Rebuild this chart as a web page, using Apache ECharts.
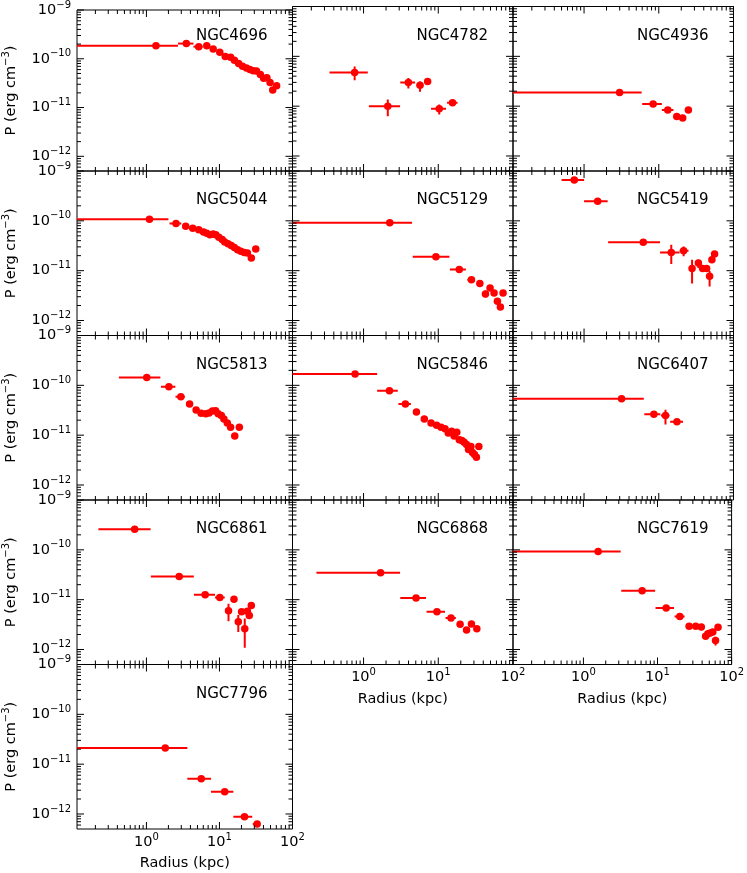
<!DOCTYPE html>
<html lang="en">
<head>
<meta charset="UTF-8">
<title>Pressure profiles</title>
<script src="https://cdn.jsdelivr.net/npm/echarts@6/dist/echarts.min.js"></script>
<style>
    html, body { margin: 0; padding: 0; background: #fff; }
    #container { width: 747px; height: 873px; }
</style>
</head>
<body>
<div id="container"></div>
<script>
    // one row per point: [radius kpc, P, radius low, radius high, P low, P high]
    // null = no bar, radius low 0 = bin starts at the centre
    var NGC4696 = [
        [1.35, 1.85e-10, 0, 2.7, null, null], [3.52, 2.05e-10, 2.7, 4.4, null, null],
        [5.2, 1.77e-10, 4.4, 5.9, null, null], [6.7, 1.85e-10, null, null, null, null],
        [8.2, 1.59e-10, null, null, null, null], [10.1, 1.36e-10, null, null, null, null],
        [12, 1.11e-10, null, null, null, null], [14.2, 1.08e-10, null, null, null, null],
        [16, 9.3e-11, null, null, null, null], [18.3, 8.0e-11, null, null, null, null],
        [20.7, 7.0e-11, null, null, null, null], [23.4, 6.5e-11, null, null, null, null],
        [26.1, 6.05e-11, null, null, null, null], [28.9, 5.7e-11, null, null, null, null],
        [32.1, 5.6e-11, null, null, null, null], [36.3, 4.75e-11, null, null, null, null],
        [40.2, 4.0e-11, null, null, null, null], [44.6, 4.1e-11, null, null, null, null],
        [49.3, 3.25e-11, null, null, null, null], [53.6, 2.3e-11, null, null, null, null],
        [60.6, 2.8e-11, null, null, null, null]
    ];
    var NGC4782 = [
        [0.76, 4.75e-11, 0.35, 1.14, 3.3e-11, 6.25e-11], [2.11, 1.0e-11, 1.18, 3.08, 6.3e-12, 1.36e-11],
        [3.98, 3.0e-11, 3.1, 4.9, 2.27e-11, 3.67e-11], [5.7, 2.63e-11, 5.1, 6.3, 1.94e-11, 3.13e-11],
        [7.2, 3.13e-11, null, null, null, null], [10.3, 8.9e-12, 8.0, 12.7, 6.8e-12, 1.08e-11],
        [15.5, 1.17e-11, 13.1, 18.1, 1.08e-11, 1.26e-11]
    ];
    var NGC4936 = [
        [2.99, 1.88e-11, 0, 5.9, null, null], [8.4, 1.1e-11, 6.0, 11, null, null],
        [13.2, 8.4e-12, 11, 15.7, null, null], [17.4, 6.2e-12, null, null, null, null],
        [20.9, 5.8e-12, null, null, null, null], [24.9, 8.4e-12, null, null, null, null]
    ];
    var NGC5044 = [
        [1.1, 1.07e-10, 0, 2.0, null, null], [2.54, 8.8e-11, 2.07, 3.0, null, null],
        [3.45, 7.75e-11, null, null, null, null], [4.3, 7.1e-11, null, null, null, null],
        [5.2, 6.6e-11, null, null, null, null], [6.05, 6.0e-11, null, null, null, null],
        [6.7, 5.65e-11, null, null, null, null], [7.4, 5.25e-11, null, null, null, null],
        [8.2, 5.45e-11, null, null, null, null], [8.9, 5.25e-11, null, null, null, null],
        [9.8, 4.7e-11, null, null, null, null], [10.9, 4.2e-11, null, null, null, null],
        [11.8, 3.77e-11, null, null, null, null], [13.1, 3.45e-11, null, null, null, null],
        [14.5, 3.2e-11, null, null, null, null], [16, 2.93e-11, null, null, null, null],
        [17.7, 2.62e-11, null, null, null, null], [19.6, 2.44e-11, null, null, null, null],
        [21.8, 2.32e-11, null, null, null, null], [24.1, 2.25e-11, null, null, null, null],
        [27.3, 1.79e-11, null, null, null, null], [31.4, 2.72e-11, null, null, null, null]
    ];
    var NGC5129 = [
        [2.24, 9.1e-11, 0, 4.46, null, null], [9.3, 1.9e-11, 4.55, 14.1, null, null],
        [19.1, 1.05e-11, 14.3, 23.4, null, null], [27.8, 6.6e-12, 24.5, 31, null, null],
        [36, 5.5e-12, null, null, null, null], [42.8, 3.4e-12, null, null, 2.9e-12, 4.0e-12],
        [49.3, 4.5e-12, null, null, null, null], [55.8, 3.56e-12, null, null, null, null],
        [61.8, 2.44e-12, null, null, null, null], [67.8, 1.87e-12, null, null, null, null],
        [73.6, 3.56e-12, null, null, null, null]
    ];
    var NGC5419 = [
        [0.74, 6.6e-10, 0.5, 1.0, null, null], [1.52, 2.47e-10, 1.0, 2.07, null, null],
        [6.2, 3.7e-11, 2.1, 10.4, null, null], [14.7, 2.32e-11, 10.4, 19, 1.36e-11, 3.3e-11],
        [21.5, 2.5e-11, 19, 25, 1.94e-11, 3.04e-11], [27.9, 1.1e-11, null, null, 5.5e-12, 1.65e-11],
        [33.9, 1.42e-11, null, null, 1.13e-11, 1.65e-11], [38.6, 1.11e-11, null, null, null, null],
        [43.7, 1.11e-11, null, null, null, null], [47.9, 7.75e-12, null, null, 4.8e-12, 9.9e-12],
        [51.4, 1.65e-11, null, null, null, null], [55.8, 2.16e-11, null, null, null, null]
    ];
    var NGC5813 = [
        [1.01, 1.44e-10, 0.42, 1.55, null, null], [2.03, 9.4e-11, 1.58, 2.49, null, null],
        [2.96, 5.9e-11, 2.5, 3.35, null, null], [3.9, 4.2e-11, null, null, null, null],
        [4.79, 3.2e-11, null, null, null, null], [5.6, 2.75e-11, null, null, null, null],
        [6.5, 2.7e-11, null, null, null, null], [7.2, 2.78e-11, null, null, null, null],
        [8.0, 3.06e-11, null, null, null, null], [8.85, 3.1e-11, null, null, null, null],
        [9.6, 2.68e-11, null, null, null, null], [10.6, 2.47e-11, null, null, null, null],
        [11.5, 2.12e-11, null, null, null, null], [12.8, 1.76e-11, null, null, null, null],
        [14.2, 1.44e-11, null, null, null, null], [16.2, 9.6e-12, null, null, null, null],
        [18.7, 1.44e-11, null, null, null, null]
    ];
    var NGC5846 = [
        [0.77, 1.68e-10, 0, 1.52, null, null], [2.22, 7.8e-11, 1.52, 2.87, null, null],
        [3.63, 4.2e-11, 2.93, 4.3, null, null], [5.1, 2.9e-11, null, null, null, null],
        [6.5, 2.12e-11, null, null, null, null], [8.0, 1.76e-11, null, null, null, null],
        [9.5, 1.59e-11, null, null, null, null], [10.9, 1.44e-11, null, null, null, null],
        [12.3, 1.34e-11, null, null, null, null], [13.6, 1.11e-11, null, null, null, null],
        [15.1, 1.2e-11, null, null, null, null], [16.3, 9.6e-12, null, null, null, null],
        [17.7, 1.14e-11, null, null, null, null], [19.1, 8.1e-12, null, null, null, null],
        [20.7, 7.8e-12, null, null, null, null], [22.2, 7.2e-12, null, null, null, null],
        [23.9, 6.5e-12, null, null, null, null], [25.4, 5.15e-12, null, null, null, null],
        [27.3, 5.9e-12, null, null, null, null], [28.7, 4.5e-12, null, null, null, null],
        [30.5, 4.1e-12, null, null, null, null], [32.4, 3.6e-12, null, null, null, null],
        [34.9, 5.9e-12, null, null, null, null]
    ];
    var NGC6407 = [
        [3.18, 5.4e-11, 0, 6.3, null, null], [8.6, 2.63e-11, 6.4, 10.5, null, null],
        [12.3, 2.47e-11, 10.7, 13.9, 1.63e-11, 3.25e-11], [17.5, 1.85e-11, 14.2, 21.1, null, null]
    ];
    var NGC6861 = [
        [0.69, 2.6e-10, 0.22, 1.14, null, null], [2.81, 2.93e-11, 1.15, 4.46, null, null],
        [6.37, 1.26e-11, 4.46, 8.7, 1.15e-11, 1.38e-11], [10.1, 1.11e-11, 8.7, 11.8, null, null],
        [13.3, 6.0e-12, null, null, 3.7e-12, 8.3e-12], [15.8, 1.02e-11, null, null, null, null],
        [18.1, 3.6e-12, null, null, 2.25e-12, 4.9e-12], [20.1, 5.7e-12, null, null, null, null],
        [22.2, 2.6e-12, null, null, 1.08e-12, 4.2e-12], [24.1, 5.85e-12, null, null, null, null],
        [25.6, 4.8e-12, null, null, null, null], [27.3, 7.6e-12, null, null, null, null]
    ];
    var NGC6868 = [
        [1.69, 3.47e-11, 0.234, 3.08, null, null], [5.04, 1.08e-11, 3.1, 6.85, null, null],
        [9.6, 5.7e-12, 6.97, 12.3, null, null], [14.8, 4.3e-12, 12.5, 17.2, null, null],
        [19.6, 3.2e-12, null, null, null, null], [23.9, 2.47e-12, null, null, null, null],
        [27.8, 3.26e-12, null, null, null, null], [32.8, 2.6e-12, null, null, null, null]
    ];
    var NGC7619 = [
        [1.58, 9.3e-11, 0, 3.18, null, null], [6.2, 1.51e-11, 3.24, 9.3, null, null],
        [13.1, 6.8e-12, 9.4, 16.7, null, null], [20, 4.57e-12, 17.0, 23.2, null, null],
        [26.7, 2.93e-12, null, null, null, null], [32.8, 2.93e-12, null, null, null, null],
        [39, 2.84e-12, null, null, null, null], [44.6, 1.85e-12, null, null, null, null],
        [47.9, 2.06e-12, null, null, null, null], [51.4, 2.15e-12, null, null, null, null],
        [55.8, 2.25e-12, null, null, null, null], [60.7, 1.51e-12, null, null, 1.2e-12, 1.8e-12],
        [65.6, 2.8e-12, null, null, null, null]
    ];
    var NGC7796 = [
        [1.81, 2.12e-11, 0, 3.63, null, null], [5.63, 5.1e-12, 3.63, 7.66, null, null],
        [11.8, 2.8e-12, 7.66, 15.5, null, null], [22, 8.8e-13, 15.5, 28.1, null, null],
        [32.8, 6.3e-13, 28.6, 36.3, null, null]
    ];

    var names = ['NGC4696', 'NGC4782', 'NGC4936', 'NGC5044', 'NGC5129', 'NGC5419', 'NGC5813',
                 'NGC5846', 'NGC6407', 'NGC6861', 'NGC6868', 'NGC7619', 'NGC7796'];
    var profiles = [NGC4696, NGC4782, NGC4936, NGC5044, NGC5129, NGC5419, NGC5813,
                    NGC5846, NGC6407, NGC6861, NGC6868, NGC7619, NGC7796];

    // axis ranges and tick positions
    var X_MIN = 0.112, X_MAX = 100, Y_MIN = 5e-13, Y_MAX = 1e-9;
    var X_DECADES = [0.1, 1, 10, 100];
    var Y_DECADES = [1e-13, 1e-12, 1e-11, 1e-10, 1e-9];
    var MINOR_STEPS = [1, 2, 3, 4, 5, 6, 7, 8, 9];

    var FONT = 'DejaVu Sans', RED = '#ff0000';
    var colLeft = [72, 292.5, 513], rowTop = [6.5, 171, 335.5, 500, 664.5];
    var panelW = 220.5, panelH = 164.5;

    function tickList(decades, lo, hi) {
        var out = [];
        decades.forEach(function (d) {
            MINOR_STEPS.forEach(function (m) {
                var v = m * d;
                if (v > lo * 1.0001 && v <= hi * 1.0001) out.push([v, m === 1 ? 1 : 0]);
            });
        });
        return out;
    }
    var xTicks = tickList(X_DECADES, X_MIN, X_MAX);
    var yTicks = tickList(Y_DECADES, Y_MIN, Y_MAX);

    var powRich = {
        b: {fontFamily: FONT, fontSize: 14.5, color: '#000', lineHeight: 20},
        s: {fontFamily: FONT, fontSize: 10, color: '#000', verticalAlign: 'top', lineHeight: 12}
    };
    function powLabel(v) {
        var l = Math.log10(v), e = Math.round(l);
        if (Math.abs(l - e) > 1e-6) return '';
        return '{b|10}{s|' + (e < 0 ? '\u2212' + (-e) : e) + '}';
    }

    function renderErrors(params, api) {
        var x = api.value(0), y = api.value(1);
        var lo = api.value(2), hi = api.value(3), plo = api.value(4), phi = api.value(5);
        var style = {stroke: RED, lineWidth: 2};
        var kids = [];
        if (isFinite(hi) && hi > 0) {
            var a = api.coord([lo > 0 ? lo : X_MIN, y]), b = api.coord([hi, y]);
            kids.push({type: 'line', shape: {x1: a[0], y1: a[1], x2: b[0], y2: b[1]}, style: style});
        }
        if (isFinite(phi) && phi > 0) {
            var c = api.coord([x, plo]), d = api.coord([x, phi]);
            kids.push({type: 'line', shape: {x1: c[0], y1: c[1], x2: d[0], y2: d[1]}, style: style});
        }
        return {type: 'group', children: kids};
    }

    function renderXTick(params, api) {
        var len = api.value(2) ? 7 : 4;
        var b = api.coord([api.value(0), Y_MIN]), t = api.coord([api.value(0), Y_MAX]);
        var st = {stroke: '#000', lineWidth: 1};
        return {type: 'group', children: [
            {type: 'line', shape: {x1: b[0], y1: b[1], x2: b[0], y2: b[1] - len}, style: st},
            {type: 'line', shape: {x1: t[0], y1: t[1], x2: t[0], y2: t[1] + len}, style: st}
        ]};
    }
    function renderYTick(params, api) {
        var len = api.value(2) ? 7 : 4;
        var l = api.coord([X_MIN, api.value(1)]), r = api.coord([X_MAX, api.value(1)]);
        var st = {stroke: '#000', lineWidth: 1};
        return {type: 'group', children: [
            {type: 'line', shape: {x1: l[0], y1: l[1], x2: l[0] + len, y2: l[1]}, style: st},
            {type: 'line', shape: {x1: r[0], y1: r[1], x2: r[0] - len, y2: r[1]}, style: st}
        ]};
    }

    var grids = [], xAxes = [], yAxes = [], titles = [], series = [];
    names.forEach(function (name, i) {
        var col = i % 3, row = Math.floor(i / 3);
        var showX = row === 4 || (row === 3 && col > 0);
        var showY = col === 0;
        grids.push({
            left: colLeft[col], top: rowTop[row], width: panelW, height: panelH,
            show: true, borderColor: '#000', borderWidth: 1, backgroundColor: 'transparent'
        });
        xAxes.push({
            type: 'log', gridIndex: i, min: X_MIN, max: X_MAX,
            axisLine: {show: false}, axisTick: {show: false}, splitLine: {show: false},
            axisLabel: {show: showX, formatter: powLabel, rich: powRich, margin: 3,
                        showMinLabel: true, showMaxLabel: true, hideOverlap: false},
            name: showX ? 'Radius (kpc)' : '', nameLocation: 'middle', nameGap: 27,
            nameTextStyle: {fontFamily: FONT, fontSize: 14.5, color: '#000'}
        });
        yAxes.push({
            type: 'log', gridIndex: i, min: Y_MIN, max: Y_MAX,
            axisLine: {show: false}, axisTick: {show: false}, splitLine: {show: false},
            axisLabel: {show: showY, formatter: powLabel, rich: powRich, margin: 6,
                        showMinLabel: true, showMaxLabel: true, hideOverlap: false},
            name: showY ? '{a|P (erg cm}{s|\u22123}{a|)}' : '', nameLocation: 'middle', nameGap: 56,
            nameTextStyle: {
                color: '#000',
                rich: {
                    a: {fontFamily: FONT, fontSize: 14.5, color: '#000', lineHeight: 20},
                    s: {fontFamily: FONT, fontSize: 10, color: '#000', verticalAlign: 'top', lineHeight: 12}
                }
            }
        });
        titles.push({
            text: name, left: colLeft[col] + 124, top: rowTop[row] + 22, padding: 0,
            textStyle: {fontFamily: FONT, fontSize: 15, fontWeight: 'normal', color: '#000'}
        });
        series.push({
            type: 'custom', xAxisIndex: i, yAxisIndex: i, clip: true, z: 2, silent: true,
            dimensions: ['r', 'p', 'rlo', 'rhi', 'plo', 'phi'], encode: {x: 0, y: 1},
            renderItem: renderErrors, data: profiles[i]
        });
        series.push({
            type: 'scatter', xAxisIndex: i, yAxisIndex: i, symbol: 'circle', symbolSize: 7.5, z: 3,
            itemStyle: {color: RED, opacity: 1},
            data: profiles[i].map(function (p) { return [p[0], p[1]]; })
        });
        series.push({
            type: 'custom', xAxisIndex: i, yAxisIndex: i, z: 4, silent: true,
            encode: {x: 0, y: 1}, renderItem: renderXTick,
            data: xTicks.map(function (t) { return [t[0], Y_MIN, t[1]]; })
        });
        series.push({
            type: 'custom', xAxisIndex: i, yAxisIndex: i, z: 4, silent: true,
            encode: {x: 0, y: 1}, renderItem: renderYTick,
            data: yTicks.map(function (t) { return [X_MIN, t[0], t[1]]; })
        });
    });

    var myChart = echarts.init(document.getElementById('container'));
    myChart.setOption({
        backgroundColor: '#fff',
        animation: false,
        title: titles,
        grid: grids,
        xAxis: xAxes,
        yAxis: yAxes,
        series: series
    });
</script>
</body>
</html>
